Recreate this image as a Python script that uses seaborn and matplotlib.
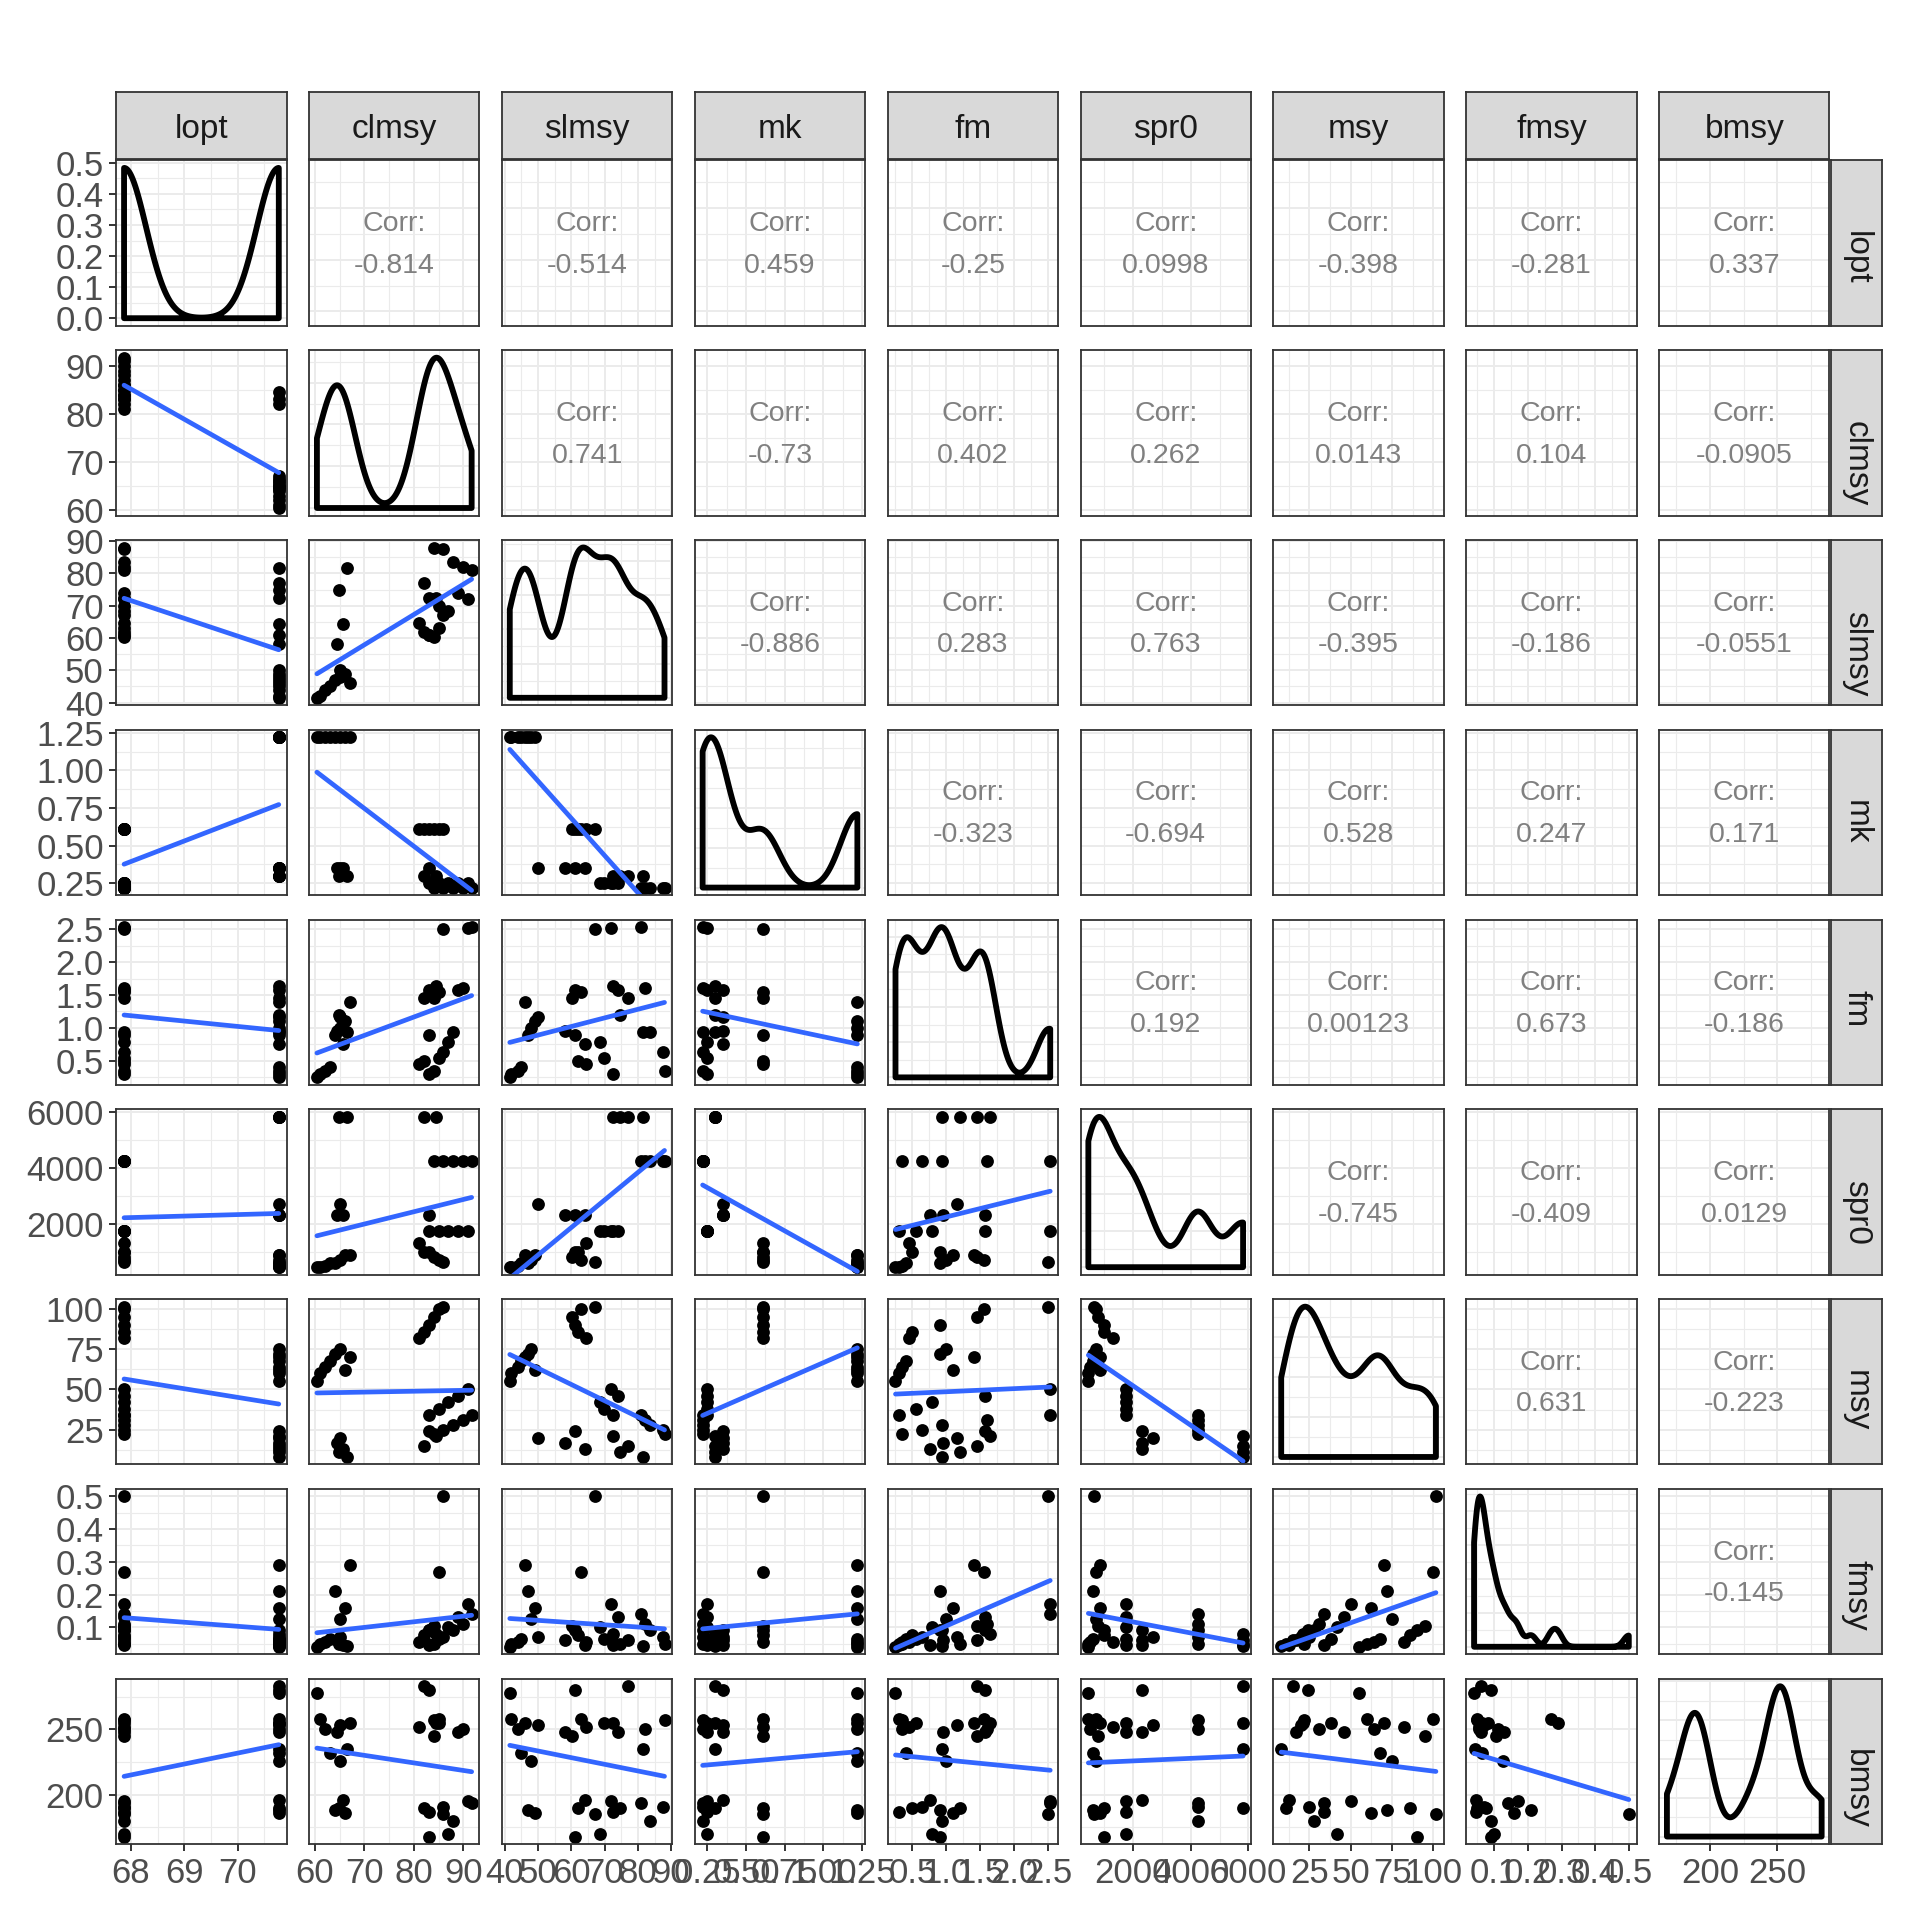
import numpy as np
import pandas as pd
import seaborn as sns
import matplotlib
matplotlib.use('Agg')
import matplotlib.pyplot as plt
from matplotlib.ticker import MultipleLocator, MaxNLocator, AutoMinorLocator, FuncFormatter

# one row per visible dot, grouped by stock (5, 5, 6, 4, 4, 8 rows)
lopt = [67.87] * 16 + [70.77] * 16
clmsy = [84, 86, 88, 90, 91.7,
         83, 85, 87, 89, 91,
         81, 82, 83, 84, 85, 86,
         66.4, 64.8, 82, 84.5,
         65.6, 64.4, 65, 83,
         60.4, 61, 62, 63, 64, 65, 66, 67]
slmsy = [88, 87.5, 83.5, 82, 81,
         72.5, 69.8, 68.5, 74, 72,
         64.5, 62, 61, 60.3, 63, 67,
         81.6, 74.7, 77, 72.5,
         64.2, 58.2, 50, 61,
         41.5, 42, 44, 45, 47, 48, 49, 46]
mk = [0.22] * 5 + [0.25] * 5 + [0.61] * 6 + [0.30] * 4 + [0.35] * 4 + [1.22] * 8
fm = [0.35, 0.64, 0.94, 1.6, 2.53,
      0.3, 0.55, 0.79, 1.57, 2.52,
      0.45, 0.5, 0.9, 1.45, 1.55, 2.5,
      0.94, 1.2, 1.45, 1.64,
      0.76, 0.95, 1.16, 1.57,
      0.25, 0.3, 0.35, 0.4, 0.9, 1.0, 1.1, 1.4]
spr0 = [4250] * 5 + [1750] * 5 + [1300, 1000, 1000, 800, 700, 650] + [5818] * 4 + \
       [2300, 2300, 2700, 2300] + [450, 450, 500, 600, 600, 700, 870, 870]
msy = [22, 25, 28, 31, 34,
       34, 38, 42, 46, 50,
       82, 86, 90, 95, 100, 101.5,
       8, 11, 15, 21,
       13, 17, 20, 24,
       55, 60, 64, 68, 72, 75, 62, 70]
fmsy = [0.05, 0.07, 0.09, 0.11, 0.14,
        0.045, 0.065, 0.1, 0.13, 0.17,
        0.055, 0.075, 0.09, 0.105, 0.27, 0.5,
        0.042, 0.05, 0.06, 0.08,
        0.045, 0.06, 0.07, 0.09,
        0.04, 0.048, 0.055, 0.065, 0.21, 0.125, 0.16, 0.29]
bmsy = [257, 191, 180, 250, 194,
        187, 255, 170, 248, 195,
        252, 190, 168, 245, 258, 185,
        235, 190, 283, 255,
        196, 248, 253, 280,
        278, 258, 250, 232, 188, 226, 186, 255]
records_per_point = 10   # dots hide many identical records

# correlations printed in the upper panels, row by row
corr_text = ['-0.814', '-0.514', '0.459', '-0.25', '0.0998', '-0.398', '-0.281', '0.337',
             '0.741', '-0.73', '0.402', '0.262', '0.0143', '0.104', '-0.0905',
             '-0.886', '0.283', '0.763', '-0.395', '-0.186', '-0.0551',
             '-0.323', '-0.694', '0.528', '0.247', '0.171',
             '0.192', '0.00123', '0.673', '-0.186',
             '-0.745', '-0.409', '0.0129',
             '0.631', '-0.223',
             '-0.145']

names = ['lopt', 'clmsy', 'slmsy', 'mk', 'fm', 'spr0', 'msy', 'fmsy', 'bmsy']
df = pd.DataFrame(dict(lopt=lopt, clmsy=clmsy, slmsy=slmsy, mk=mk, fm=fm,
                       spr0=spr0, msy=msy, fmsy=fmsy, bmsy=bmsy))

steps = dict(lopt=1, clmsy=10, slmsy=10, mk=0.25, fm=0.5, spr0=2000, msy=25, fmsy=0.1, bmsy=50)
fmts = dict(lopt='{:.0f}', clmsy='{:.0f}', slmsy='{:.0f}', mk='{:.2f}', fm='{:.1f}',
            spr0='{:.0f}', msy='{:.0f}', fmsy='{:.1f}', bmsy='{:.0f}')

sns.set_style('white')
plt.rcParams['font.family'] = ['Liberation Sans', 'DejaVu Sans']

BORDER = '#333333'
GRID = '#EBEBEB'
TICKS = 25
S = 1568.0


def lims(v):
    lo, hi = df[v].min(), df[v].max()
    pad = 0.05 * (hi - lo)
    return lo - pad, hi + pad


def nrd0(x):
    sd = np.std(x, ddof=1)
    iqr = np.subtract(*np.percentile(x, [75, 25]))
    lo = min(sd, iqr / 1.34) if iqr > 0 else sd
    return 0.9 * lo * len(x) ** -0.2


def set_axis(axis, v):
    axis.set_major_locator(MultipleLocator(steps[v]))
    axis.set_minor_locator(MultipleLocator(steps[v] / 2))
    axis.set_major_formatter(FuncFormatter(lambda t, p, f=fmts[v]: f.format(t)))


def strip(rect, label, rot):
    sx = fig.add_axes(rect)
    sx.set_facecolor('#D9D9D9')
    sx.set_xticks([])
    sx.set_yticks([])
    for sp in sx.spines.values():
        sp.set_color(BORDER)
        sp.set_linewidth(1.3)
    sx.text(0.5, 0.5, label, ha='center', va='center_baseline', fontsize=24,
            color='#1A1A1A', rotation=rot, transform=sx.transAxes)


fig = plt.figure(figsize=(19.2, 19.2))
pw, ph = 139, 135

for i, vi in enumerate(names):
    for j, vj in enumerate(names):
        x0 = 95 + j * 157.5
        y0 = 131 + i * 155
        ax = fig.add_axes([x0 / S, 1 - (y0 + ph) / S, pw / S, ph / S])
        ax.set_xlim(lims(vj))
        set_axis(ax.xaxis, vj)
        if i > j:
            sns.regplot(data=df, x=vj, y=vi, ax=ax, ci=None, truncate=True,
                        scatter_kws=dict(color='black', s=85, linewidths=0, alpha=1),
                        line_kws=dict(color='#3366FF', lw=3.4))
            ax.set_ylim(lims(vi))
            set_axis(ax.yaxis, vi)
        elif i == j:
            vals = np.repeat(df[vi].values, records_per_point)
            factor = nrd0(vals) / np.std(vals, ddof=1)
            sns.kdeplot(x=vals, bw_method=factor, cut=0, gridsize=512, ax=ax, color='black')
            line = ax.lines[-1]
            xs, ys = line.get_data()
            line.remove()
            ax.fill(np.r_[xs[0], xs, xs[-1]], np.r_[0, ys, 0], fill=False,
                    edgecolor='black', lw=4.2, joinstyle='round')
            ymax = ys.max()
            ax.set_ylim(-0.05 * ymax, 1.05 * ymax)
            if i == 0:
                ax.yaxis.set_major_locator(MultipleLocator(0.1))
                ax.yaxis.set_minor_locator(MultipleLocator(0.05))
                ax.yaxis.set_major_formatter(FuncFormatter(lambda t, p: '{:.1f}'.format(t)))
            else:
                ax.yaxis.set_major_locator(MaxNLocator(5))
                ax.yaxis.set_minor_locator(AutoMinorLocator(2))
        else:
            ax.set_ylim(lims(vi))
            set_axis(ax.yaxis, vi)
            k = sum(len(names) - 1 - r for r in range(i)) + (j - i - 1)
            ax.text(0.5, 0.615, 'Corr:', transform=ax.transAxes, ha='center', va='center',
                    fontsize=20.5, color='#808080')
            ax.text(0.5, 0.363, corr_text[k], transform=ax.transAxes, ha='center', va='center',
                    fontsize=20.5, color='#808080')
        ax.set_xlabel('')
        ax.set_ylabel('')
        ax.set_axisbelow(True)
        ax.grid(which='major', color=GRID, lw=1.4)
        ax.grid(which='minor', color=GRID, lw=0.8)
        for sp in ax.spines.values():
            sp.set_color(BORDER)
            sp.set_linewidth(1.3)
        ax.tick_params(which='minor', length=0)
        ax.tick_params(which='major', length=5, width=1.4, color=BORDER, pad=4,
                       labelsize=TICKS, labelcolor='#4D4D4D',
                       left=(j == 0), labelleft=(j == 0),
                       bottom=(i == len(names) - 1), labelbottom=(i == len(names) - 1))

# facet strips: column names on top, row names on the right
for j, v in enumerate(names):
    strip([(95 + j * 157.5) / S, 1 - 130 / S, pw / S, 55 / S], v, 0)
for i, v in enumerate(names):
    strip([1495 / S, 1 - (131 + i * 155 + ph) / S, 42 / S, ph / S], v, -90)

fig.savefig('out.png', dpi=100, facecolor='white')
